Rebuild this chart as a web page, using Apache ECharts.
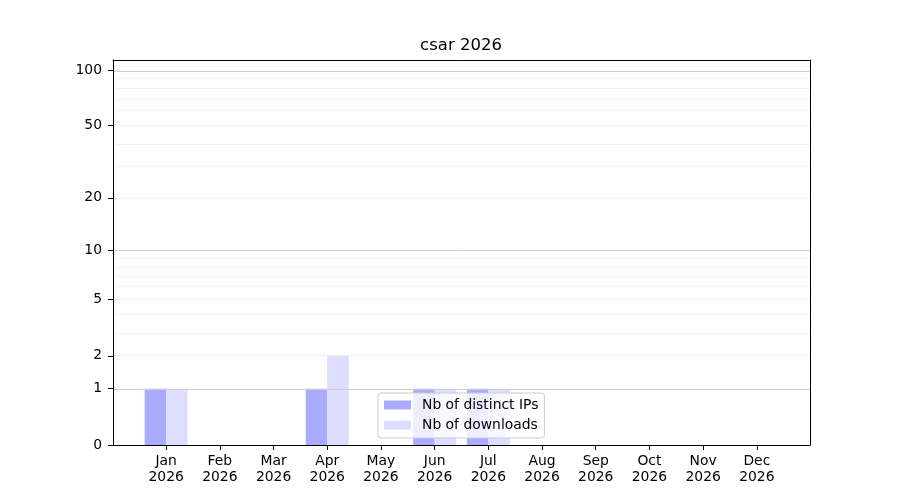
<!DOCTYPE html>
<html>
<head>
<meta charset="utf-8">
<title>csar 2026</title>
<script src="https://cdn.jsdelivr.net/npm/echarts@6/dist/echarts.min.js"></script>
<style>
  html, body { margin: 0; padding: 0; background: #fff; }
  #chart { width: 900px; height: 500px; }
</style>
</head>
<body>
<div id="chart"></div>
<script>
// monthly counts
const months = ['Jan', 'Feb', 'Mar', 'Apr', 'May', 'Jun', 'Jul', 'Aug', 'Sep', 'Oct', 'Nov', 'Dec'];
const year = '2026';
const distinctIps = [1, 0, 0, 1, 0, 1, 1, 0, 0, 0, 0, 0];
const downloads = [1, 0, 0, 2, 0, 1, 1, 0, 0, 0, 0, 0];
const yTicks = [0, 1, 2, 5, 10, 20, 50, 100];
const yMajorGrid = [1, 10, 100];
const yMinorGrid = [2, 3, 4, 5, 6, 7, 8, 9, 20, 30, 40, 50, 60, 70, 80, 90];

// symlog-ish scale: y = log10(1 + v)
const tf = v => Math.log10(1 + v);
const font = 'DejaVu Sans, sans-serif';
const xMin = -0.99, xMax = 11.99, yMin = 0, yMax = 2.059;

const gridLines = [
    ...yMinorGrid.map(v => ({ yAxis: tf(v), lineStyle: { color: '#ececec', width: 0.8, type: 'solid' } })),
    ...yMajorGrid.map(v => ({ yAxis: tf(v), lineStyle: { color: '#cccccc', width: 1, type: 'solid' } }))
];

// plain spine used for the top and right edges of the box
const spine = pos => ({
    type: 'value', position: pos, z: 5,
    axisLine: { show: true, onZero: false, lineStyle: { color: '#000', width: 1 } },
    axisTick: { show: false }, axisLabel: { show: false }, splitLine: { show: false }
});

const chart = echarts.init(document.getElementById('chart'), null, { renderer: 'canvas' });
chart.setOption({
    animation: false,
    title: {
        text: 'csar ' + year,
        left: 461,
        top: 37,
        padding: 0,
        textAlign: 'center',
        textStyle: { fontFamily: font, fontSize: 16.5, fontWeight: 'normal', color: '#000' }
    },
    legend: {
        orient: 'vertical',
        left: 378,
        top: 393,
        padding: [4, 6, 5, 6],
        itemGap: 4,
        itemWidth: 27,
        itemHeight: 9,
        icon: 'rect',
        backgroundColor: 'rgba(255,255,255,0.8)',
        borderColor: '#cccccc',
        borderWidth: 1,
        borderRadius: 3,
        textStyle: { fontFamily: font, fontSize: 13.9, color: '#000', lineHeight: 16, padding: [0, 0, 0, 6] },
        data: ['Nb of distinct IPs', 'Nb of downloads']
    },
    grid: { left: 113, right: 90, top: 60, bottom: 55, show: false },
    xAxis: [
        {
            type: 'value',
            min: xMin,
            max: xMax,
            z: 5,
            splitLine: { show: false },
            axisLine: { show: true, onZero: false, lineStyle: { color: '#000', width: 1 } },
            axisTick: {
                show: true, length: 5, inside: false,
                lineStyle: { color: '#000' },
                customValues: months.map((m, i) => i)
            },
            axisLabel: {
                customValues: months.map((m, i) => i),
                formatter: v => months[Math.round(v)] + '\n' + year,
                fontFamily: font, fontSize: 13.9, color: '#000',
                lineHeight: 16, margin: 8
            }
        },
        Object.assign(spine('top'), { min: xMin, max: xMax })
    ],
    yAxis: [
        {
            type: 'value',
            min: yMin,
            max: yMax,
            z: 5,
            splitLine: { show: false },
            axisLine: { show: true, onZero: false, lineStyle: { color: '#000', width: 1 } },
            axisTick: {
                show: true, length: 5, inside: false,
                lineStyle: { color: '#000' },
                customValues: yTicks.map(tf)
            },
            axisLabel: {
                customValues: yTicks.map(tf),
                formatter: v => String(Math.round(Math.pow(10, v) - 1)),
                fontFamily: font, fontSize: 13.9, color: '#000', margin: 11
            }
        },
        Object.assign(spine('right'), { min: yMin, max: yMax })
    ],
    series: [
        {
            name: 'Nb of distinct IPs',
            type: 'bar',
            barWidth: 21.5,
            barGap: '0%',
            itemStyle: { color: '#aaaaff' },
            data: distinctIps.map((v, i) => [i, tf(v)])
        },
        {
            name: 'Nb of downloads',
            type: 'bar',
            barWidth: 21.5,
            barGap: '0%',
            itemStyle: { color: '#ddddff' },
            data: downloads.map((v, i) => [i, tf(v)]),
            markLine: {
                silent: true,
                symbol: 'none',
                label: { show: false },
                data: gridLines
            }
        }
    ]
});
window.onresize = chart.resize;
</script>
</body>
</html>
